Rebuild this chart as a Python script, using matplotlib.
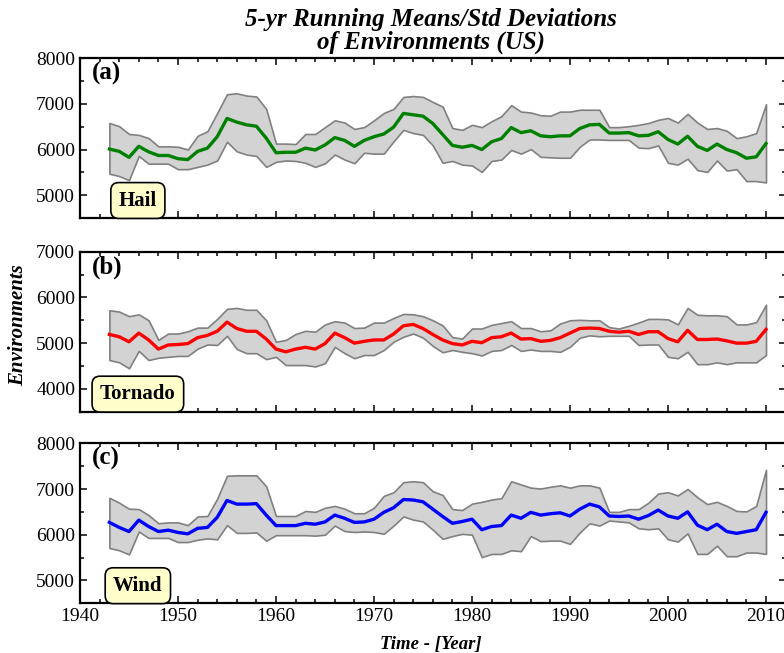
import numpy as np
import matplotlib
matplotlib.use("Agg")
import matplotlib.pyplot as plt
from matplotlib.ticker import MultipleLocator

years = np.arange(1943, 2011)

hail_mean = [6010, 5960, 5830, 6070, 5950, 5870, 5870, 5800, 5780, 5960,
             6030, 6280, 6680, 6600, 6540, 6510, 6250, 5930, 5940, 5940,
             6030, 5990, 6100, 6260, 6200, 6070, 6200, 6280, 6340, 6490,
             6790, 6760, 6730, 6570, 6330, 6090, 6050, 6090, 6000, 6170,
             6240, 6480, 6370, 6410, 6300, 6280, 6300, 6300, 6460, 6540,
             6550, 6360, 6360, 6370, 6300, 6310, 6390, 6220, 6120, 6290,
             6070, 5980, 6120, 6000, 5930, 5810, 5840, 6130]
hail_upper = [6580, 6510, 6340, 6320, 6250, 6070, 6070, 6060, 6000, 6300,
              6400, 6800, 7210, 7230, 7180, 7160, 6890, 6130, 6130, 6120,
              6340, 6340, 6490, 6640, 6590, 6450, 6490, 6640, 6800, 6890,
              7150, 7170, 7150, 7040, 6940, 6470, 6430, 6540, 6490, 6620,
              6730, 6970, 6830, 6810, 6750, 6740, 6830, 6830, 6870, 6870,
              6870, 6490, 6490, 6510, 6540, 6580, 6650, 6690, 6590, 6780,
              6590, 6450, 6470, 6410, 6250, 6290, 6360, 6990]
hail_lower = [5470, 5420, 5330, 5860, 5690, 5690, 5690, 5570, 5570, 5620,
              5670, 5760, 6170, 5960, 5890, 5860, 5620, 5730, 5760, 5750,
              5710, 5620, 5700, 5890, 5780, 5700, 5930, 5910, 5910, 6180,
              6430, 6360, 6320, 6090, 5710, 5750, 5670, 5650, 5510, 5750,
              5780, 5990, 5910, 6010, 5840, 5830, 5820, 5820, 6060, 6220,
              6220, 6210, 6210, 6210, 6040, 6030, 6090, 5710, 5670, 5800,
              5550, 5510, 5760, 5540, 5570, 5310, 5310, 5280]

tornado_mean = [5190, 5140, 5030, 5220, 5070, 4870, 4960, 4970, 4990, 5120,
                5170, 5260, 5460, 5320, 5260, 5260, 5090, 4870, 4810, 4870,
                4910, 4870, 4990, 5220, 5120, 5000, 5040, 5070, 5070, 5200,
                5380, 5410, 5320, 5190, 5070, 4990, 4960, 5040, 5010, 5120,
                5140, 5220, 5090, 5100, 5040, 5060, 5120, 5220, 5320, 5330,
                5320, 5260, 5240, 5260, 5190, 5250, 5250, 5100, 5030, 5280,
                5080, 5080, 5090, 5050, 5000, 5000, 5040, 5300]
tornado_upper = [5720, 5690, 5590, 5630, 5500, 5070, 5210, 5210, 5260, 5340,
                 5340, 5530, 5750, 5770, 5730, 5730, 5500, 5030, 5070, 5200,
                 5270, 5250, 5410, 5480, 5450, 5330, 5340, 5450, 5450, 5550,
                 5640, 5630, 5590, 5500, 5390, 5130, 5100, 5320, 5320, 5400,
                 5440, 5480, 5330, 5330, 5260, 5280, 5430, 5500, 5510, 5500,
                 5500, 5350, 5320, 5380, 5450, 5530, 5530, 5520, 5410, 5770,
                 5620, 5610, 5610, 5590, 5410, 5410, 5460, 5840]
tornado_lower = [4630, 4580, 4450, 4830, 4630, 4680, 4700, 4720, 4720, 4880,
                 4970, 4960, 5160, 4870, 4780, 4780, 4650, 4700, 4520, 4520,
                 4520, 4490, 4560, 4920, 4780, 4670, 4740, 4740, 4850, 5030,
                 5140, 5210, 5120, 4940, 4800, 4850, 4810, 4780, 4730, 4830,
                 4850, 4960, 4830, 4860, 4830, 4830, 4810, 4920, 5120, 5170,
                 5150, 5160, 5160, 5160, 4960, 4970, 4970, 4700, 4670, 4810,
                 4540, 4540, 4580, 4540, 4580, 4580, 4580, 4740]

wind_mean = [6270, 6160, 6070, 6320, 6180, 6070, 6100, 6050, 6020, 6140,
             6160, 6380, 6750, 6670, 6670, 6680, 6430, 6200, 6200, 6200,
             6250, 6230, 6280, 6430, 6360, 6270, 6280, 6340, 6490, 6590,
             6770, 6760, 6720, 6560, 6400, 6250, 6290, 6340, 6110, 6180,
             6200, 6430, 6360, 6490, 6430, 6460, 6480, 6410, 6560, 6670,
             6610, 6410, 6400, 6410, 6340, 6420, 6540, 6410, 6360, 6500,
             6210, 6110, 6230, 6070, 6030, 6070, 6110, 6490]
wind_upper = [6810, 6700, 6570, 6560, 6430, 6250, 6270, 6270, 6210, 6400,
              6410, 6790, 7290, 7300, 7300, 7300, 7060, 6410, 6410, 6410,
              6520, 6500, 6590, 6630, 6570, 6470, 6470, 6590, 6850, 6930,
              7150, 7170, 7150, 6950, 6870, 6560, 6540, 6680, 6720, 6770,
              6800, 7170, 7100, 7030, 7010, 7050, 7080, 7030, 7080, 7080,
              7030, 6500, 6500, 6560, 6560, 6700, 6900, 6930, 6860, 7000,
              6820, 6670, 6720, 6630, 6520, 6510, 6630, 7420]
wind_lower = [5710, 5660, 5570, 6070, 5930, 5930, 5930, 5840, 5840, 5890,
              5920, 5900, 6210, 6040, 6040, 6050, 5870, 5990, 5990, 5990,
              5990, 5980, 6000, 6200, 6080, 6060, 6070, 6060, 6020, 6200,
              6400, 6330, 6290, 6110, 5910, 5970, 6020, 6000, 5510, 5580,
              5580, 5660, 5640, 5970, 5860, 5870, 5870, 5800, 6050, 6250,
              6200, 6310, 6290, 6270, 6140, 6120, 6140, 5900, 5850, 6030,
              5580, 5580, 5760, 5530, 5530, 5610, 5610, 5580]

panels = [
    ("(a)", "Hail", hail_mean, hail_upper, hail_lower, "green", (4500, 8000)),
    ("(b)", "Tornado", tornado_mean, tornado_upper, tornado_lower, "red", (3500, 7000)),
    ("(c)", "Wind", wind_mean, wind_upper, wind_lower, "blue", (4500, 8000)),
]

plt.rcParams["font.family"] = ["Liberation Serif", "DejaVu Serif"]


def main():
    fig = plt.figure(figsize=(7.84, 6.53), dpi=100)
    bottoms = [0.666, 0.3695, 0.0761]

    for i, (tag, name, mean, upper, lower, color, ylim) in enumerate(panels):
        ax = fig.add_axes([80 / 784, bottoms[i], 705.6 / 784, 160 / 653])
        ax.fill_between(years, lower, upper, facecolor="lightgray",
                        edgecolor="gray", linewidth=1.2)
        ax.plot(years, mean, color=color, linewidth=2.4)

        ax.set_xlim(1940, 2012)
        ax.set_ylim(*ylim)
        ax.xaxis.set_major_locator(MultipleLocator(10))
        ax.xaxis.set_minor_locator(MultipleLocator(2))
        ax.yaxis.set_major_locator(MultipleLocator(1000))
        ax.yaxis.set_minor_locator(MultipleLocator(500))
        ax.tick_params(which="both", direction="in", top=True, right=True,
                       labelsize=14, width=1.1)
        ax.tick_params(which="major", length=5)
        ax.tick_params(which="minor", length=3)
        for sp in ax.spines.values():
            sp.set_linewidth(1.6)
        if i < 2:
            ax.tick_params(labelbottom=False)

        ax.text(0.017, 0.975, tag, transform=ax.transAxes, fontsize=18,
                fontweight="bold", va="top", ha="left")
        ax.text(0.082, 0.11, name, transform=ax.transAxes, fontsize=15,
                fontweight="bold", va="center", ha="center",
                bbox=dict(boxstyle="round,pad=0.38", facecolor="#ffffcc",
                          edgecolor="black", linewidth=1.2))

    fig.text(0.55, 0.988, "5-yr Running Means/Std Deviations\nof Environments (US)",
             ha="center", va="top", fontsize=18, fontweight="bold",
             fontstyle="italic", linespacing=1.0)
    fig.text(18 / 784, 1 - 325 / 653, "Environments", rotation=90,
             ha="center", va="center", fontsize=15, fontweight="bold",
             fontstyle="italic")
    fig.text(0.55, 1 - 644 / 653, "Time - [Year]", ha="center", va="center",
             fontsize=13.5, fontweight="bold", fontstyle="italic")

    fig.savefig("out.png", dpi=100)


if __name__ == "__main__":
    main()
